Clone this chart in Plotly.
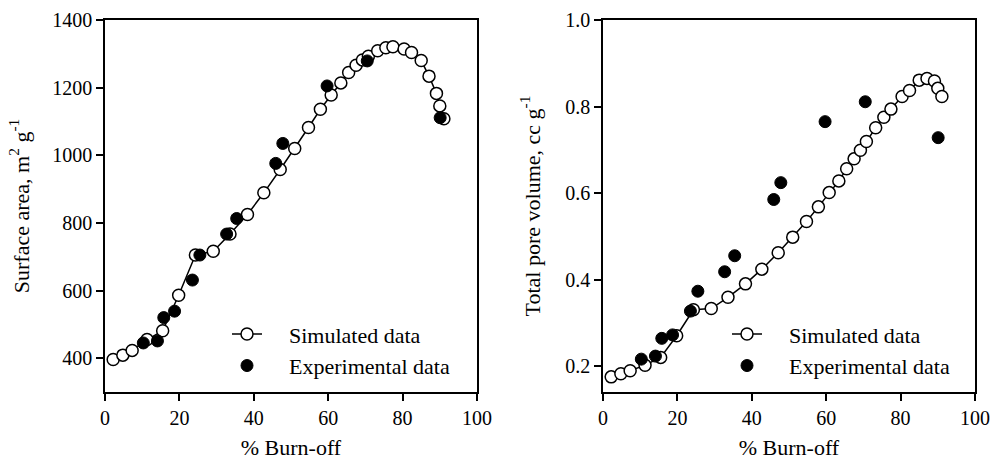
import plotly.graph_objects as go

# Simulated data (shared burn-off values)
sim_burnoff = [2.2, 4.8, 7.3, 11.3, 15.5, 19.8, 24.3, 29.1, 33.6, 38.3, 42.7, 47.1, 51.0, 54.7,
               57.9, 60.8, 63.4, 65.5, 67.5, 69.2, 70.8, 73.3, 75.5, 77.4, 80.4, 82.4, 85.0,
               87.1, 89.1, 90.0, 91.1]
sim_surface = [396, 409, 423, 455, 481, 586, 705, 716, 767, 825, 889, 958, 1020, 1082,
               1136, 1178, 1214, 1245, 1266, 1282, 1293, 1309, 1318, 1321, 1314, 1304, 1280,
               1234, 1183, 1146, 1108]
sim_pore = [0.175, 0.182, 0.189, 0.202, 0.220, 0.270, 0.330, 0.333, 0.359, 0.390, 0.424, 0.462,
            0.498, 0.534, 0.568, 0.601, 0.628, 0.656, 0.679, 0.699, 0.719, 0.751, 0.775, 0.794,
            0.823, 0.837, 0.861, 0.865, 0.859, 0.842, 0.823]

# Experimental data
exp_burnoff = [10.3, 14.1, 15.8, 18.7, 23.5, 25.5, 32.7, 35.4, 45.9, 47.8, 59.7, 70.5, 90.1]
exp_surface = [445, 451, 520, 539, 631, 705, 767, 813, 976, 1035, 1205, 1279, 1111]
exp_pore = [0.216, 0.223, 0.264, 0.272, 0.327, 0.373, 0.418, 0.455, 0.585, 0.624, 0.765, 0.811, 0.728]

x_ticks = [0, 20, 40, 60, 80, 100]
surf_ticks = [400, 600, 800, 1000, 1200, 1400]
pore_ticks = [0.2, 0.4, 0.6, 0.8, 1.0]

FONT = "Liberation Serif"
W, H = 991, 460
ML, MR, MT, MB = 105, 16, 20, 68
PW = W - ML - MR

def px_to_paper_x(p):
    return (p - ML) / PW

PAD = "\u00a0" * 4

fig = go.Figure()

sim_style = dict(mode="lines+markers",
                 line=dict(color="black", width=1.5),
                 marker=dict(symbol="circle", size=12, color="white",
                             line=dict(color="black", width=1.5)))
exp_style = dict(mode="markers",
                 marker=dict(symbol="circle", size=12, color="black",
                             line=dict(color="black", width=1)))

fig.add_trace(go.Scatter(x=sim_burnoff, y=sim_surface, name=PAD + "Simulated data",
                         xaxis="x", yaxis="y", legend="legend", **sim_style))
fig.add_trace(go.Scatter(x=exp_burnoff, y=exp_surface, name=PAD + "Experimental data",
                         xaxis="x", yaxis="y", legend="legend", **exp_style))
fig.add_trace(go.Scatter(x=sim_burnoff, y=sim_pore, name=PAD + "Simulated data",
                         xaxis="x2", yaxis="y2", legend="legend2", **sim_style))
fig.add_trace(go.Scatter(x=exp_burnoff, y=exp_pore, name=PAD + "Experimental data",
                         xaxis="x2", yaxis="y2", legend="legend2", **exp_style))

axis_common = dict(showline=True, linecolor="black", linewidth=1.5, mirror=True,
                   ticks="outside", ticklen=7, tickwidth=1.5, tickcolor="black",
                   showgrid=False, zeroline=False, automargin=False,
                   tickfont=dict(family=FONT, size=20, color="black"))

title_font = dict(family=FONT, size=22, color="black")

fig.update_layout(
    width=W, height=H,
    margin=dict(l=ML, r=MR, t=MT, b=MB),
    paper_bgcolor="white", plot_bgcolor="white",
    font=dict(family=FONT, color="black"),
    xaxis=dict(domain=[0, px_to_paper_x(477)], range=[0, 100], tickvals=x_ticks,
               title=dict(text="% Burn-off", font=title_font, standoff=32),
               anchor="y", **axis_common),
    yaxis=dict(domain=[0, 1], range=[300, 1400], tickvals=surf_ticks,
               title=dict(text="Surface area, m<sup>2</sup> g<sup>-1</sup>", font=title_font, standoff=17),
               anchor="x", **axis_common),
    xaxis2=dict(domain=[px_to_paper_x(603), 1], range=[0, 100], tickvals=x_ticks,
                title=dict(text="% Burn-off", font=title_font, standoff=32),
                anchor="y2", **axis_common),
    yaxis2=dict(domain=[0, 1], range=[0.14, 1.0], tickvals=pore_ticks,
                tickformat=".1f",
                title=dict(text="Total pore volume, cc g<sup>-1</sup>", font=title_font, standoff=19),
                anchor="x2", **axis_common),
    legend=dict(x=px_to_paper_x(227), y=0.212, xanchor="left", yanchor="top",
                bgcolor="rgba(0,0,0,0)", borderwidth=0,
                font=dict(family=FONT, size=22, color="black")),
    legend2=dict(x=px_to_paper_x(727), y=0.212, xanchor="left", yanchor="top",
                 bgcolor="rgba(0,0,0,0)", borderwidth=0,
                 font=dict(family=FONT, size=22, color="black")),
)

fig.write_html("out.html", config={"displayModeBar": False},
               post_script="document.body.style.margin='0';")
